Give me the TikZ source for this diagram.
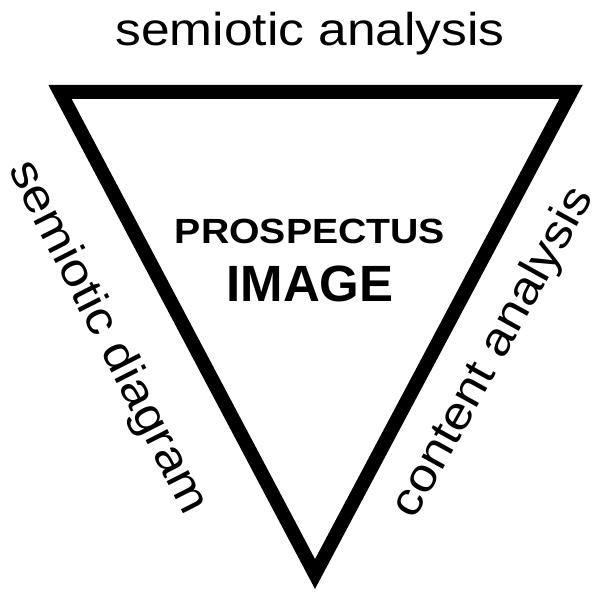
\documentclass[tikz,border=0pt]{standalone}
\usepackage{fontspec}
\setmainfont{Liberation Sans}
\newfontfamily\widefont[FakeStretch=1.12]{Liberation Sans}
\usetikzlibrary{calc}

\begin{document}
\begin{tikzpicture}[x=1pt, y=1pt]
    \tikzset{
        side label/.style={font=\widefont\fontsize{46}{50}\selectfont, inner sep=0pt},
        centre label/.style={inner sep=0pt, anchor=base}
    }

    % Frame
    \useasboundingbox (0,0) rectangle (595,596);

    % Constants
    \pgfmathsetmacro{\wline}{14}

    % Corners of the triangle
    \coordinate (A) at (60, 504);
    \coordinate (B) at (571, 504);
    \coordinate (C) at (315, 22);

    % Triangle
    \draw [line width=\wline pt, miter limit=10] (A) -- (B) -- (C) -- cycle;

    % Labels of the sides
    \node [side label, anchor=base] (top) at (310, 550) {semiotic analysis};
    \node [side label, rotate=-63] (left) at (107, 258) {semiotic diagram};
    \node [side label, rotate=61] (right) at (494, 243) {content analysis};

    % Centre
    \node [centre label, font=\widefont\bfseries\fontsize{35}{40}\selectfont] (prosp) at (310, 352) {PROSPECTUS};
    \node [centre label, font=\bfseries\fontsize{51}{56}\selectfont] (image) at (310, 294) {IMAGE};

\end{tikzpicture}
\end{document}
